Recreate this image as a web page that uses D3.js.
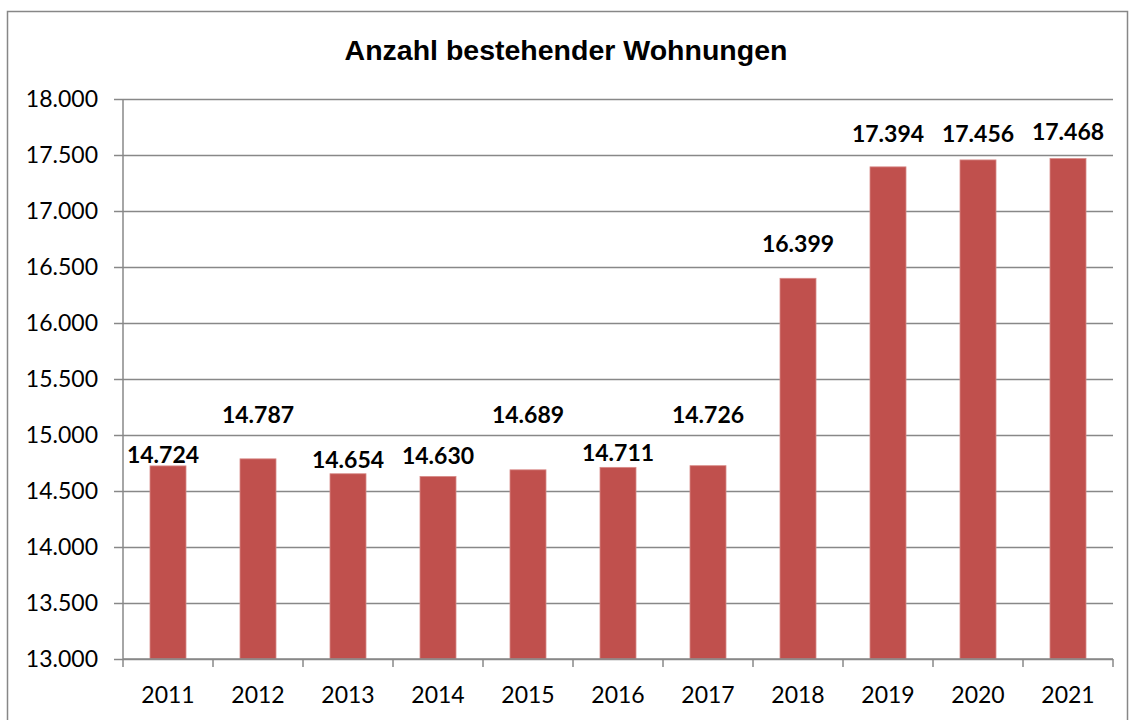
<!DOCTYPE html>
<html>
<head>
    <meta charset="utf-8">
    <script src="https://d3js.org/d3.v7.min.js"></script>
    <style>
        body { margin: 0; background: #fff; }
    </style>
</head>
<body>
    <svg width="1135" height="720"></svg>

    <script>
        // data
        var years = ["2011", "2012", "2013", "2014", "2015", "2016", "2017", "2018", "2019", "2020", "2021"];
        var flats = [14724, 14787, 14654, 14630, 14689, 14711, 14726, 16399, 17394, 17456, 17468];
        var yTicks = [13000, 13500, 14000, 14500, 15000, 15500, 16000, 16500, 17000, 17500, 18000];

        // label lift above bar top (Excel put them by hand)
        var labelLift = [3, 36, 6, 12, 47, 6, 43, 26, 25, 18, 19];

        var svg = d3.select("svg");
        var pLeft = 123, pRight = 1113, pTop = 99, pBottom = 659;

        var fmt = function (v) { return d3.format(",")(v).replace(/,/g, "."); };

        // outer frame
        svg.append("rect")
            .attr("x", 7.5).attr("y", 11.5)
            .attr("width", 1120).attr("height", 720)
            .attr("fill", "none")
            .attr("stroke", "#878787")
            .attr("stroke-width", 1.5);

        // title
        svg.append("text")
            .attr("x", 566).attr("y", 60)
            .attr("text-anchor", "middle")
            .style("font-family", "'Liberation Sans', Arial, sans-serif")
            .style("font-weight", "bold")
            .style("font-size", "28.5px")
            .text("Anzahl bestehender Wohnungen");

        var x = d3.scaleBand().domain(years).range([pLeft, pRight]).paddingInner(0.6).paddingOuter(0.3);
        var y = d3.scaleLinear().domain([13000, 18000]).range([pBottom, pTop]);

        // gridlines + y axis
        var yAxis = svg.append("g")
            .attr("transform", "translate(" + pLeft + ",0)")
            .call(d3.axisLeft(y).tickValues(yTicks).tickSize(9).tickFormat(fmt));
        yAxis.selectAll(".tick line").attr("stroke", "#888").attr("stroke-width", 1.5);
        yAxis.selectAll(".tick").append("line")
            .attr("x1", 0).attr("x2", pRight - pLeft)
            .attr("stroke", "#888").attr("stroke-width", 1.5);
        yAxis.select(".domain").attr("stroke", "#888").attr("stroke-width", 1.5)
            .attr("d", "M0," + pTop + "V" + pBottom);
        yAxis.selectAll("text")
            .attr("x", -25)
            .style("font-family", "Lato, sans-serif")
            .style("font-size", "23px")
            .attr("fill", "#000");

        // bars
        svg.selectAll(".bar")
            .data(flats)
            .enter().append("rect")
            .attr("class", "bar")
            .attr("x", function (d, i) { return x(years[i]); })
            .attr("y", function (d) { return y(d); })
            .attr("width", x.bandwidth())
            .attr("height", function (d) { return pBottom - y(d); })
            .attr("fill", "#C0504D")
            .attr("stroke", "#D88A88")
            .attr("stroke-width", 0.8);

        // x axis with ticks between categories
        var xg = svg.append("g").attr("transform", "translate(0," + pBottom + ")");
        xg.append("line")
            .attr("x1", pLeft).attr("x2", pRight)
            .attr("stroke", "#888").attr("stroke-width", 1.5);
        var step = x.step();
        xg.selectAll(".sep")
            .data(d3.range(years.length + 1))
            .enter().append("line")
            .attr("x1", function (i) { return pLeft + i * step; })
            .attr("x2", function (i) { return pLeft + i * step; })
            .attr("y1", 0).attr("y2", 8)
            .attr("stroke", "#888").attr("stroke-width", 1.5);
        xg.selectAll(".yr")
            .data(years)
            .enter().append("text")
            .attr("x", function (d) { return x(d) + x.bandwidth() / 2; })
            .attr("y", 44)
            .attr("text-anchor", "middle")
            .style("font-family", "Lato, sans-serif")
            .style("font-size", "23px")
            .text(function (d) { return d; });

        // value labels
        svg.selectAll(".lbl")
            .data(flats)
            .enter().append("text")
            .attr("x", function (d, i) { return x(years[i]) + x.bandwidth() / 2 - (i === 0 ? 5 : 0); })
            .attr("y", function (d, i) { return y(d) - labelLift[i]; })
            .attr("text-anchor", "middle")
            .style("font-family", "Lato, sans-serif")
            .style("font-weight", "bold")
            .style("font-size", "23px")
            .text(function (d) { return fmt(d); });
    </script>
</body>
</html>
